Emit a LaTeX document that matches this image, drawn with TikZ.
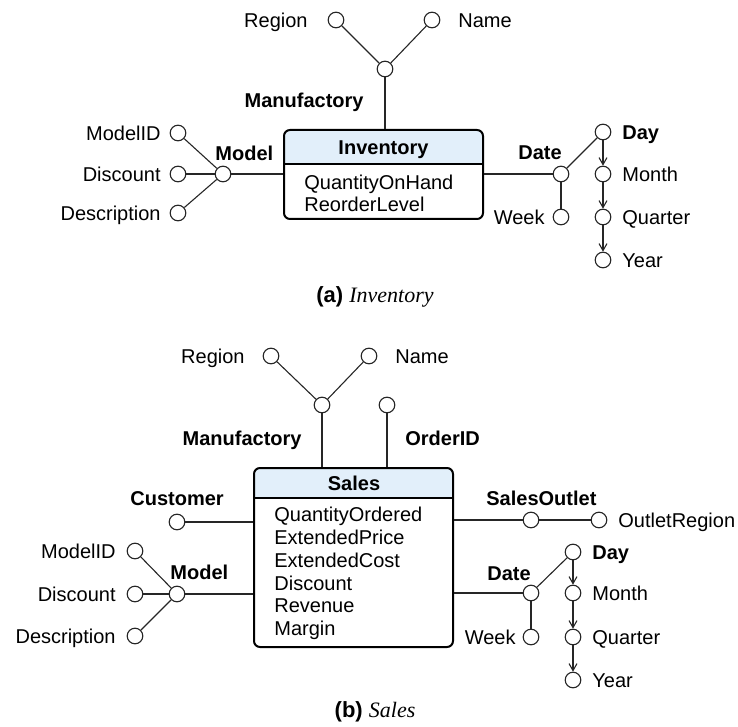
\documentclass[tikz,border=0pt]{standalone}
\usepackage{fontspec}
\setmainfont{Liberation Sans}
\newfontfamily\capfont{Liberation Serif}
\usetikzlibrary{arrows.meta}
\definecolor{hdrblue}{RGB}{226,239,250}
\begin{document}
\begin{tikzpicture}[x=0.5pt,y=-0.5pt,
  conn/.style={draw=black!85,line width=0.55pt},
  dot/.style={circle,draw=black!85,line width=0.55pt,fill=white,inner sep=0pt,minimum size=7.8pt},
  txt/.style={inner sep=0pt,font=\fontsize{10pt}{12pt}\selectfont,text height=7.2pt,text depth=0pt},
  lvl/.style={txt,font=\fontsize{10pt}{12pt}\selectfont\bfseries},
  item/.style={txt,anchor=west},
  entity/.style={draw=black,line width=1pt,rounded corners=3pt,inner sep=0pt},
  hdr/.style={fill=hdrblue},
  roll/.style={conn,-{Straight Barb[length=3.5pt,width=4pt]}},
  figcap/.style={inner sep=0pt,font=\fontsize{11pt}{13pt}\selectfont}]
\useasboundingbox (0,0) rectangle (738,727);

% ---------------- (a) Inventory ----------------
\begin{scope}
  \clip[rounded corners=3pt] (284,130) rectangle (483,219);
  \fill[hdr] (284,130) rectangle (483,164);
\end{scope}
\node[entity,minimum width=99.5pt,minimum height=44.5pt] (inv) at (383.5,174.5) {};
\coordinate (invsep) at (383.5,164);
\draw[line width=1pt] (inv.west |- invsep) -- (inv.east |- invsep);
\node[lvl] (invt) at (383.5,147) {Inventory};
\node[item] (inv1) at (304,182) {QuantityOnHand};
\node[item] (inv2) at (304,204) {ReorderLevel};

% Manufactory
\node[dot] (amanu) at (385,69) {};
\node[dot] (areg) at (336,20) {};
\node[dot] (aname) at (432,20) {};
\node[txt,anchor=east] (aregt) at (308,20) {Region};
\node[txt,anchor=west] (anamet) at (458,20) {Name};
\node[lvl,anchor=east] (amanut) at (364,100) {Manufactory};
\draw[conn] (areg) -- (amanu);
\draw[conn] (aname) -- (amanu);
\draw[conn] (amanu) -- (amanu |- inv.north);

% Model
\node[dot] (amodel) at (223,174) {};
\node[dot] (amid) at (178,133) {};
\node[dot] (adisc) at (178,174) {};
\node[dot] (adesc) at (178,213) {};
\node[txt,anchor=east] (amidt) at (161,133) {ModelID};
\node[txt,anchor=east] (adisct) at (161,174) {Discount};
\node[txt,anchor=east] (adesct) at (161,213) {Description};
\node[lvl,anchor=west] (amodelt) at (215,153) {Model};
\draw[conn] (amid) -- (amodel);
\draw[conn] (adisc) -- (amodel);
\draw[conn] (adesc) -- (amodel);
\draw[conn] (amodel) -- (amodel -| inv.west);

% Date
\node[dot] (adate) at (561,174) {};
\node[dot] (aweek) at (561,217) {};
\node[dot] (aday) at (603,132) {};
\node[dot] (amonth) at (603,174) {};
\node[dot] (aquar) at (603,217) {};
\node[dot] (ayear) at (603,260) {};
\node[lvl,anchor=west] (adatet) at (518,152) {Date};
\node[txt,anchor=east] (aweekt) at (545,217) {Week};
\node[lvl,anchor=west] (adayt) at (622,132) {Day};
\node[txt,anchor=west] (amontht) at (622,174) {Month};
\node[txt,anchor=west] (aquart) at (622,217) {Quarter};
\node[txt,anchor=west] (ayeart) at (622,260) {Year};
\draw[conn] (inv.east |- adate) -- (adate);
\draw[conn] (adate) -- (aweek);
\draw[conn] (adate) -- (aday);
\draw[roll] (aday) -- (amonth);
\draw[roll] (amonth) -- (aquar);
\draw[roll] (aquar) -- (ayear);

\node[figcap] (capa) at (375,297) {\bfseries (a) {\capfont\mdseries\itshape Inventory}};

% ---------------- (b) Sales ----------------
\begin{scope}
  \clip[rounded corners=3pt] (254,468) rectangle (453,647);
  \fill[hdr] (254,468) rectangle (453,498);
\end{scope}
\node[entity,minimum width=99.5pt,minimum height=89.5pt] (sal) at (353.5,557.5) {};
\coordinate (salsep) at (353.5,498);
\draw[line width=1pt] (sal.west |- salsep) -- (sal.east |- salsep);
\node[lvl] (salt) at (354,483) {Sales};
\node[item] (sal1) at (274,514) {QuantityOrdered};
\node[item] (sal2) at (274,537) {ExtendedPrice};
\node[item] (sal3) at (274,560) {ExtendedCost};
\node[item] (sal4) at (274,583) {Discount};
\node[item] (sal5) at (274,605) {Revenue};
\node[item] (sal6) at (274,628) {Margin};

% Manufactory and OrderID
\node[dot] (bmanu) at (322,405) {};
\node[dot] (breg) at (271,356) {};
\node[dot] (bname) at (369,356) {};
\node[dot] (border) at (387,405) {};
\node[txt,anchor=east] (bregt) at (245,356) {Region};
\node[txt,anchor=west] (bnamet) at (395,356) {Name};
\node[lvl,anchor=east] (bmanut) at (302,438) {Manufactory};
\node[lvl,anchor=west] (bordert) at (405,438) {OrderID};
\draw[conn] (breg) -- (bmanu);
\draw[conn] (bname) -- (bmanu);
\draw[conn] (bmanu) -- (bmanu |- sal.north);
\draw[conn] (border) -- (border |- sal.north);

% Customer
\node[dot] (bcust) at (177,522) {};
\node[lvl,anchor=west] (bcustt) at (130,498) {Customer};
\draw[conn] (bcust) -- (bcust -| sal.west);

% Model
\node[dot] (bmodel) at (177,594) {};
\node[dot] (bmid) at (135,551) {};
\node[dot] (bdisc) at (135,594) {};
\node[dot] (bdesc) at (135,636) {};
\node[txt,anchor=east] (bmidt) at (116,551) {ModelID};
\node[txt,anchor=east] (bdisct) at (116,594) {Discount};
\node[txt,anchor=east] (bdesct) at (116,636) {Description};
\node[lvl,anchor=west] (bmodelt) at (170,572) {Model};
\draw[conn] (bmid) -- (bmodel);
\draw[conn] (bdisc) -- (bmodel);
\draw[conn] (bdesc) -- (bmodel);
\draw[conn] (bmodel) -- (bmodel -| sal.west);

% SalesOutlet
\node[dot] (bout) at (531,520) {};
\node[dot] (boreg) at (599,520) {};
\node[lvl,anchor=west] (boutt) at (486,498) {SalesOutlet};
\node[txt,anchor=west] (boregt) at (618,520) {OutletRegion};
\draw[conn] (sal.east |- bout) -- (bout);
\draw[conn] (bout) -- (boreg);

% Date
\node[dot] (bdate) at (531,593) {};
\node[dot] (bweek) at (531,637) {};
\node[dot] (bday) at (573,552) {};
\node[dot] (bmonth) at (573,593) {};
\node[dot] (bquar) at (573,637) {};
\node[dot] (byear) at (573,680) {};
\node[lvl,anchor=west] (bdatet) at (487,573) {Date};
\node[txt,anchor=east] (bweekt) at (516,637) {Week};
\node[lvl,anchor=west] (bdayt) at (592,552) {Day};
\node[txt,anchor=west] (bmontht) at (592,593) {Month};
\node[txt,anchor=west] (bquart) at (592,637) {Quarter};
\node[txt,anchor=west] (byeart) at (592,680) {Year};
\draw[conn] (sal.east |- bdate) -- (bdate);
\draw[conn] (bdate) -- (bweek);
\draw[conn] (bdate) -- (bday);
\draw[roll] (bday) -- (bmonth);
\draw[roll] (bmonth) -- (bquar);
\draw[roll] (bquar) -- (byear);

\node[figcap] (capb) at (375,712) {\bfseries (b) {\capfont\mdseries\itshape Sales}};
\end{tikzpicture}
\end{document}
